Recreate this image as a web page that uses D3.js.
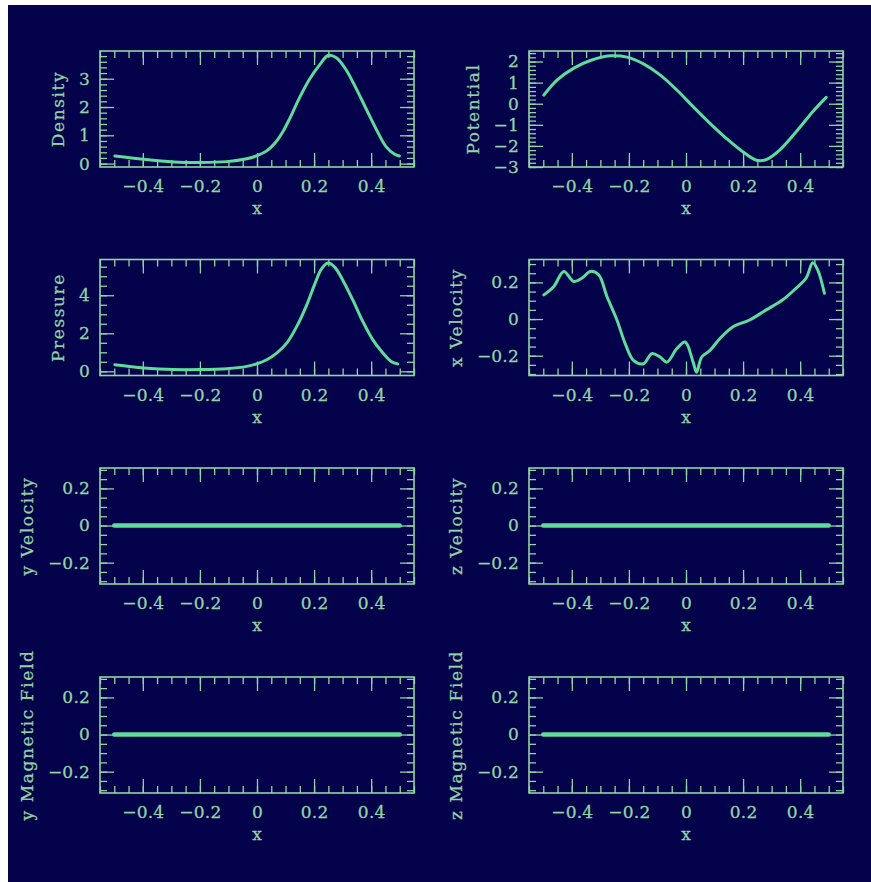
<!DOCTYPE html>
<html><head><meta charset="utf-8">
<script src="https://cdn.jsdelivr.net/npm/d3@7"></script>
<style>html,body{margin:0;padding:0;background:#fff;}svg{display:block}</style>
</head><body>
<svg id="c" width="871" height="882"></svg>
<script>
// ---- data ----
const xTickValues = [-0.4, -0.2, 0, 0.2, 0.4];
const xTickLabels = ["\u22120.4", "\u22120.2", "0", "0.2", "0.4"];

const densityX = [-0.498,-0.397,-0.292,-0.199,-0.106,-0.036,0.0,0.034,0.069,0.092,0.115,0.150,0.185,0.220,0.249,0.278,0.313,0.348,0.383,0.418,0.452,0.481,0.499];
const densityY = [0.27,0.15,0.06,0.04,0.07,0.17,0.28,0.45,0.80,1.15,1.60,2.35,3.0,3.50,3.82,3.74,3.30,2.64,1.92,1.21,0.60,0.34,0.27];
const densityTicks = [0, 1, 2, 3];
const densityTickLabels = ["0", "1", "2", "3"];

const potentialX = [-0.498,-0.451,-0.393,-0.335,-0.265,-0.207,-0.149,-0.091,-0.032,0.025,0.084,0.142,0.200,0.247,0.281,0.328,0.386,0.444,0.491];
const potentialY = [0.41,1.13,1.69,2.05,2.27,2.21,1.89,1.37,0.65,-0.14,-0.93,-1.65,-2.29,-2.68,-2.65,-2.20,-1.33,-0.38,0.30];
const potentialTicks = [2, 1, 0, -1, -2, -3];
const potentialTickLabels = ["2", "1", "0", "\u22121", "\u22122", "\u22123"];

const pressureX = [-0.498,-0.397,-0.292,-0.199,-0.106,-0.036,0.0,0.034,0.069,0.104,0.139,0.174,0.203,0.226,0.249,0.272,0.301,0.336,0.371,0.406,0.441,0.470,0.493];
const pressureY = [0.35,0.18,0.09,0.09,0.14,0.26,0.40,0.61,0.96,1.48,2.35,3.48,4.61,5.39,5.69,5.48,4.78,3.74,2.61,1.65,0.96,0.52,0.39];
const pressureTicks = [0, 2, 4];
const pressureTickLabels = ["0", "2", "4"];

const xVelX = [-0.498,-0.463,-0.428,-0.393,-0.364,-0.335,-0.306,-0.277,-0.242,-0.213,-0.184,-0.149,-0.120,-0.091,-0.067,-0.032,-0.003,0.025,0.037,0.055,0.084,0.119,0.165,0.223,0.281,0.339,0.386,0.421,0.444,0.461,0.485];
const xVelY = [0.132,0.178,0.26,0.205,0.224,0.26,0.242,0.123,-0.005,-0.134,-0.226,-0.244,-0.189,-0.207,-0.235,-0.161,-0.125,-0.235,-0.29,-0.207,-0.171,-0.106,-0.042,-0.005,0.05,0.105,0.169,0.224,0.307,0.27,0.141];
const velTicks = [0.2, 0, -0.2];
const velTickLabels = ["0.2", "0", "\u22120.2"];

const flatX = [-0.5, 0.5];
const yVelY = [0, 0];
const zVelY = [0, 0];
const yMagY = [0, 0];
const zMagY = [0, 0];

const titles = ["Density", "Potential", "Pressure", "x Velocity", "y Velocity", "z Velocity", "y Magnetic Field", "z Magnetic Field"];

// ---- layout / style ----
const BG = "#03024b", FG = "#92d4a4", CURVE = "#5fdc9a";
const FONT = "DejaVu Serif, serif";
const FS = 17;
const W = 314, H = 116;
const lefts = [100, 529];
const tops = [51, 259.5, 468, 677];

const svg = d3.select("#c");
svg.append("rect").attr("x", 8).attr("y", 5).attr("width", 863).attr("height", 877).attr("fill", BG);

const panels = [
  {title: titles[0], xs: densityX, ys: densityY, dom: [-0.12, 3.98], ticks: densityTicks, labels: densityTickLabels, minorStep: 0.2, lw: 3},
  {title: titles[1], xs: potentialX, ys: potentialY, dom: [-3.0, 2.5], ticks: potentialTicks, labels: potentialTickLabels, minorStep: 0.2, lw: 3},
  {title: titles[2], xs: pressureX, ys: pressureY, dom: [-0.22, 5.88], ticks: pressureTicks, labels: pressureTickLabels, minorStep: 0.5, lw: 3},
  {title: titles[3], xs: xVelX, ys: xVelY, dom: [-0.308, 0.325], ticks: velTicks, labels: velTickLabels, minorStep: 0.05, lw: 3},
  {title: titles[4], xs: flatX, ys: yVelY, dom: [-0.315, 0.31], ticks: velTicks, labels: velTickLabels, minorStep: 0.05, lw: 4.5},
  {title: titles[5], xs: flatX, ys: zVelY, dom: [-0.315, 0.31], ticks: velTicks, labels: velTickLabels, minorStep: 0.05, lw: 4.5},
  {title: titles[6], xs: flatX, ys: yMagY, dom: [-0.315, 0.31], ticks: velTicks, labels: velTickLabels, minorStep: 0.05, lw: 4.5},
  {title: titles[7], xs: flatX, ys: zMagY, dom: [-0.315, 0.31], ticks: velTicks, labels: velTickLabels, minorStep: 0.05, lw: 4.5}
];

function minorTicks(dom, step) {
  const out = [];
  const s = Math.ceil(dom[0] / step - 1e-9), e = Math.floor(dom[1] / step + 1e-9);
  for (let i = s; i <= e; i++) out.push(+(i * step).toFixed(6));
  return out;
}

function styleText(sel) {
  sel.attr("fill", FG).attr("font-family", FONT).attr("font-size", FS)
    .attr("stroke", FG).attr("stroke-width", 0.3);
}

function styleAxis(sel) {
  sel.select(".domain").remove();
  sel.selectAll("line").attr("stroke", FG).attr("stroke-width", 1.3);
  sel.selectAll("text").call(styleText).attr("letter-spacing", 0.2);
}

panels.forEach((p, i) => {
  const left = lefts[i % 2], top = tops[Math.floor(i / 2)];
  const g = svg.append("g").attr("transform", `translate(${left},${top})`);
  const x = d3.scaleLinear().domain([-0.55, 0.55]).range([0, W]);
  const y = d3.scaleLinear().domain(p.dom).range([H, 0]);
  const xMinor = minorTicks([-0.55, 0.55], 0.05);
  const yMinor = minorTicks(p.dom, p.minorStep);

  // minor ticks
  g.append("g").attr("transform", `translate(0,${H})`).call(d3.axisBottom(x).tickValues(xMinor).tickSize(-7).tickFormat("")).call(styleAxis);
  g.append("g").call(d3.axisTop(x).tickValues(xMinor).tickSize(-7).tickFormat("")).call(styleAxis);
  g.append("g").call(d3.axisLeft(y).tickValues(yMinor).tickSize(-7).tickFormat("")).call(styleAxis);
  g.append("g").attr("transform", `translate(${W},0)`).call(d3.axisRight(y).tickValues(yMinor).tickSize(-7).tickFormat("")).call(styleAxis);
  // major ticks
  g.append("g").attr("transform", `translate(0,${H})`).call(d3.axisBottom(x).tickValues(xTickValues).tickSize(-14).tickPadding(13).tickFormat((d, k) => xTickLabels[k])).call(styleAxis);
  g.append("g").call(d3.axisTop(x).tickValues(xTickValues).tickSize(-14).tickFormat("")).call(styleAxis);
  const la = g.append("g").call(d3.axisLeft(y).tickValues(p.ticks).tickSize(-14).tickPadding(10).tickFormat((d, k) => p.labels[k])).call(styleAxis);
  g.append("g").attr("transform", `translate(${W},0)`).call(d3.axisRight(y).tickValues(p.ticks).tickSize(-14).tickFormat("")).call(styleAxis);

  // frame
  g.append("rect").attr("width", W).attr("height", H).attr("fill", "none").attr("stroke", FG).attr("stroke-width", 1.6);

  // curve
  const pts = p.xs.map((xv, k) => [xv, p.ys[k]]);
  g.append("path").datum(pts)
    .attr("d", d3.line().x(d => x(d[0])).y(d => y(d[1])).curve(d3.curveCatmullRom.alpha(0.5)))
    .attr("fill", "none").attr("stroke", CURVE).attr("stroke-width", p.lw)
    .attr("stroke-linejoin", "round").attr("stroke-linecap", "round");

  // titles
  let maxW = 0;
  la.selectAll("text").each(function () { maxW = Math.max(maxW, this.getBBox().width); });
  const tx = -10 - maxW - 15;
  g.append("text").attr("transform", `translate(${tx},${H / 2}) rotate(-90)`)
    .attr("text-anchor", "middle").call(styleText)
    .attr("letter-spacing", 1.6).text(p.title);
  g.append("text").attr("x", W / 2).attr("y", H + 47).attr("text-anchor", "middle")
    .call(styleText).text("x");
});
</script>
</body></html>
